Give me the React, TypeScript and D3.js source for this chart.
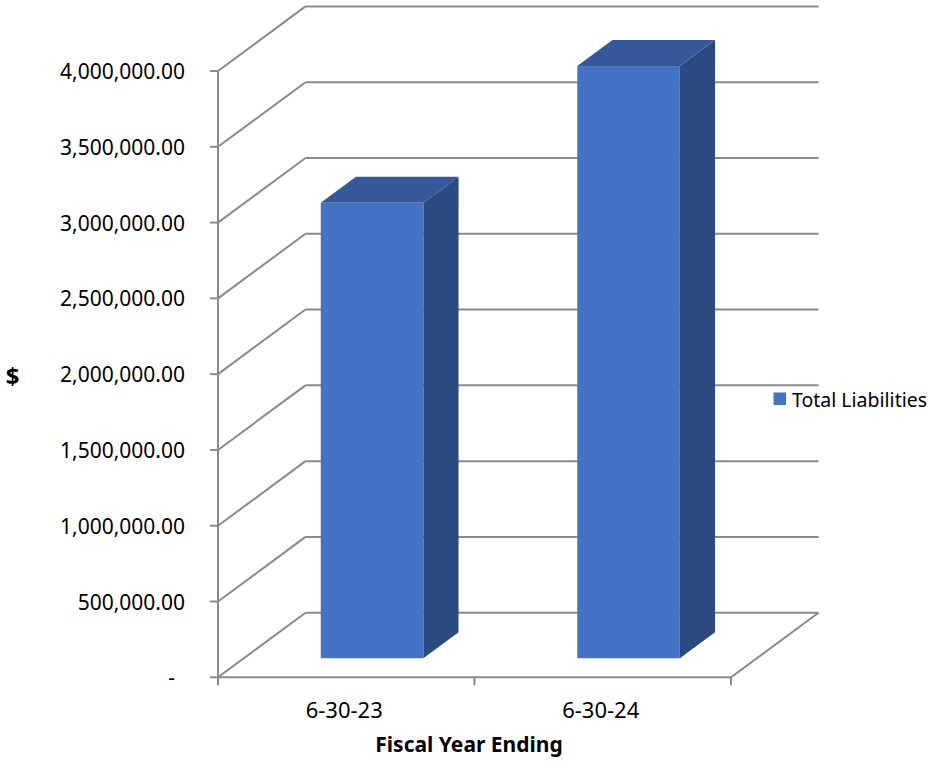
import React from "react";
import * as d3 from "d3";

const categories: string[] = ["6-30-23", "6-30-24"];
const totalLiabilities: number[] = [3005000, 3907000];
const yTickValues: number[] = [0, 500000, 1000000, 1500000, 2000000, 2500000, 3000000, 3500000, 4000000];
const seriesName = "Total Liabilities";
const xAxisTitle = "Fiscal Year Ending";
const yAxisTitle = "$";

const W = 931;
const H = 768;
const FONT = "'Noto Sans', 'Open Sans', sans-serif";
const GRID = "#8a8a8a";
const FRONT = "#4472c4";
const TOP = "#34589a";
const SIDE = "#2b4a80";

export default function App() {
  const x = d3
    .scaleBand<string>()
    .domain(categories)
    .range([218, 731])
    .paddingInner(0.6)
    .paddingOuter(0.3);
  const xFull = d3.scaleBand<string>().domain(categories).range([218, 731]).padding(0);
  const y = d3.scaleLinear().domain([0, 4000000]).range([677.3, 71]);
  const depth = { x: 87.5, y: -64.6 };
  const f = { x: depth.x * 0.295, y: depth.y * 0.295 };
  const b = { x: depth.x * 0.697, y: depth.y * 0.697 };
  const fmt = d3.format(",.2f");
  const pts = (p: [number, number][]) => p.map((q) => q.join(",")).join(" ");
  const x0 = 218;
  const x1 = 731;
  const SW = 2;

  return (
    <svg
      width={W}
      height={H}
      viewBox={`0 0 ${W} ${H}`}
      style={{ position: "absolute", left: 0, top: 0, background: "#fff" }}
    >
      <rect width={W} height={H} fill="#fff" />
      {yTickValues.map((v) => (
        <g key={"g" + v}>
          <line
            x1={x0 + depth.x}
            x2={x1 + depth.x}
            y1={y(v) + depth.y}
            y2={y(v) + depth.y}
            stroke={GRID}
            strokeWidth={SW}
          />
          <line
            x1={x0}
            y1={y(v)}
            x2={x0 + depth.x}
            y2={y(v) + depth.y}
            stroke={GRID}
            strokeWidth={SW}
          />
        </g>
      ))}
      <line x1={x1} y1={y(0)} x2={x1 + depth.x} y2={y(0) + depth.y} stroke={GRID} strokeWidth={SW} />
      {categories.map((c, i) => {
        const bx0 = x(c)!;
        const bx1 = bx0 + x.bandwidth();
        const y0 = y(0);
        const yv = y(totalLiabilities[i]);
        return (
          <g key={c}>
            <polygon
              points={pts([
                [bx1 + f.x, y0 + f.y],
                [bx1 + f.x, yv + f.y],
                [bx1 + b.x, yv + b.y],
                [bx1 + b.x, y0 + b.y],
              ])}
              fill={SIDE}
            />
            <polygon
              points={pts([
                [bx0 + f.x, yv + f.y],
                [bx1 + f.x, yv + f.y],
                [bx1 + b.x, yv + b.y],
                [bx0 + b.x, yv + b.y],
              ])}
              fill={TOP}
            />
            <rect x={bx0 + f.x} y={yv + f.y} width={x.bandwidth()} height={y0 - yv} fill={FRONT} />
          </g>
        );
      })}
      <line x1={x0} y1={y(0)} x2={x0} y2={y(4000000)} stroke={GRID} strokeWidth={SW} />
      <line x1={x0} y1={y(0)} x2={x1} y2={y(0)} stroke={GRID} strokeWidth={SW} />
      {yTickValues.map((v) => (
        <line key={"t" + v} x1={x0 - 8} x2={x0} y1={y(v)} y2={y(v)} stroke={GRID} strokeWidth={SW} />
      ))}
      {[x0, ...categories.map((c) => xFull(c)! + xFull.bandwidth())].map((t, i) => (
        <line key={"xt" + i} x1={t} x2={t} y1={y(0)} y2={y(0) + 8} stroke={GRID} strokeWidth={SW} />
      ))}
      {yTickValues.map((v) => (
        <text
          key={"l" + v}
          x={v === 0 ? 175 : 185}
          y={y(v) + 8}
          textAnchor="end"
          fontFamily={FONT}
          fontSize={21}
          fill="#000"
        >
          {v === 0 ? "-" : fmt(v)}
        </text>
      ))}
      {categories.map((c) => (
        <text
          key={"xl" + c}
          x={xFull(c)! + xFull.bandwidth() / 2 - 2}
          y={718}
          textAnchor="middle"
          fontFamily={FONT}
          fontSize={22}
          fill="#000"
        >
          {c}
        </text>
      ))}
      <text x={469} y={752} textAnchor="middle" fontFamily={FONT} fontSize={21} fontWeight="bold" fill="#000">
        {xAxisTitle}
      </text>
      <text x={12.5} y={385} textAnchor="middle" fontFamily={FONT} fontSize={24} fontWeight="bold" fill="#000">
        {yAxisTitle}
      </text>
      <rect x={773.5} y={392.5} width={12.5} height={12.5} fill={FRONT} />
      <text x={792} y={406.5} fontFamily={FONT} fontSize={19.5} fill="#000">
        {seriesName}
      </text>
    </svg>
  );
}
